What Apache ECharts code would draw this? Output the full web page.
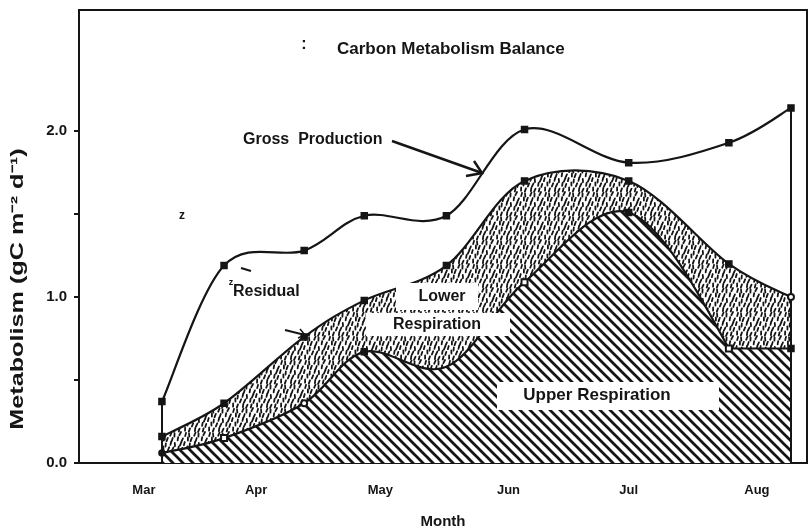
<!DOCTYPE html>
<html>
<head>
<meta charset="utf-8">
<script src="https://cdn.jsdelivr.net/npm/echarts@6/dist/echarts.min.js"></script>
<style>html,body{margin:0;padding:0;background:#fff}#c{width:811px;height:529px}</style>
</head>
<body>
<div id="c"></div>
<script>
// ---- data ----
const monthLabels = ['Mar', 'Apr', 'May', 'Jun', 'Jul', 'Aug'];
const monthTickDays = [0, 28, 59, 91, 121, 153];          // days after 1 Mar where labels sit
const sampleDays = [4.5, 20, 40, 55, 75.5, 95, 121, 146, 161.5];
const grossProduction = [0.37, 1.19, 1.28, 1.49, 1.49, 2.01, 1.81, 1.93, 2.14];
const totalRespiration = [0.16, 0.36, 0.76, 0.98, 1.19, 1.70, 1.70, 1.20, 1.00]; // top of lower respiration
const upperRespiration = [0.06, 0.15, 0.36, 0.67, 0.58, 1.09, 1.51, 0.69, 0.69];
const yTickValues = [0, 0.5, 1, 1.5, 2];
const yLabelValues = [0, 1, 2];

// ---- styles ----
const INK = '#151515';
const FONT = 'Liberation Sans, Arial, sans-serif';
const grossSymbols = ['rect','rect','rect','rect','rect','rect','rect','rect','rect'];
const totalSymbols = ['rect','rect','rect','rect','rect','rect','rect','rect','emptyCircle'];
const upperSymbols = ['circle','emptyRect','emptyCircle','rect','none','emptyRect','rect','emptyRect','rect'];

function hatchPattern() {
  const s = 10, c = document.createElement('canvas');
  c.width = s; c.height = s;
  const g = c.getContext('2d');
  g.fillStyle = '#fff'; g.fillRect(0, 0, s, s);
  g.strokeStyle = INK; g.lineWidth = 2.7; g.lineCap = 'butt';
  for (let k = -1; k <= 1; k++) {
    g.beginPath(); g.moveTo(k * s - 1, -1); g.lineTo(k * s + s + 1, s + 1); g.stroke();
  }
  return c;
}
function stipplePattern() {
  const s = 24, n = 5, step = s / n, c = document.createElement('canvas');
  c.width = s; c.height = s;
  const g = c.getContext('2d');
  g.fillStyle = '#fff'; g.fillRect(0, 0, s, s);
  g.strokeStyle = INK; g.lineWidth = 1.8; g.lineCap = 'round';
  // fixed texture offsets so the stipple is irregular but repeatable
  const jx = [0.5,-0.7,0.2,0.8,-0.4,-0.6,0.3,-0.2,0.7,-0.8,0.4,-0.3,0.6,-0.5,0.1,-0.1,0.8,-0.6,0.2,0.5,0.7,-0.4,-0.8,0.3,-0.2];
  const jy = [-0.3,0.6,-0.8,0.1,0.7,0.4,-0.5,0.8,-0.2,0.3,-0.7,0.5,0.0,-0.4,0.9,0.2,-0.6,0.6,-0.9,0.1,-0.1,0.7,0.3,-0.5,0.4];
  const sl = [1.3,0.2,1.6,0.8,-0.3,1.1,0.5,1.5,0.0,1.2,0.7,-0.2,1.4,0.9,0.3,1.6,0.6,1.0,-0.1,1.3,0.4,1.5,0.8,0.1,1.1];
  let k = 0;
  for (let r = 0; r < n; r++) {
    for (let col = 0; col < n; col++) {
      const cx = (col * step + step / 2 + (r % 2) * step / 2 + jx[k]) % s;
      const cy = r * step + step / 2 + jy[k];
      const dx = sl[k] / 2; k++;
      [[-s, 0], [0, 0], [s, 0], [0, -s], [0, s]].forEach(([ox, oy]) => {
        g.beginPath(); g.moveTo(cx + ox - dx, cy + oy + 1.6); g.lineTo(cx + ox + dx, cy + oy - 1.6); g.stroke();
      });
    }
  }
  return c;
}
const HATCH = { image: hatchPattern(), repeat: 'repeat' };
const STIPPLE = { image: stipplePattern(), repeat: 'repeat' };

// Catmull-Rom spline through pixel points
function splinePath(pts, straightTail) {
  let d = 'M' + pts[0][0] + ' ' + pts[0][1];
  const n = pts.length;
  for (let i = 0; i < n - 1; i++) {
    const p0 = pts[i - 1] || pts[i], p1 = pts[i], p2 = pts[i + 1], p3 = pts[i + 2] || pts[i + 1];
    if (straightTail && i === n - 2) { d += ' L' + p2[0] + ' ' + p2[1]; continue; }
    let c1 = [p1[0] + (p2[0] - p0[0]) / 6, p1[1] + (p2[1] - p0[1]) / 6];
    let c2 = [p2[0] - (p3[0] - p1[0]) / 6, p2[1] - (p3[1] - p1[1]) / 6];
    if (straightTail && i === n - 3) { c2 = [p2[0] - (p2[0] - p1[0]) / 4, p2[1] - (p2[1] - p1[1]) / 3]; }
    d += ' C' + c1[0] + ' ' + c1[1] + ' ' + c2[0] + ' ' + c2[1] + ' ' + p2[0] + ' ' + p2[1];
  }
  return d;
}
function bandSeries(name, values, fill, straightTail, z) {
  return {
    name, type: 'custom', z,
    data: sampleDays.map((d, i) => [d, values[i]]),
    encode: { x: 0, y: 1 },
    renderItem: function (params, api) {
      if (params.dataIndex !== 0) return null;
      const pts = sampleDays.map((d, i) => api.coord([d, values[i]]));
      const base = api.coord([0, 0])[1];
      const curve = splinePath(pts, straightTail);
      const last = pts[pts.length - 1];
      const children = [];
      if (fill) {
        children.push({ type: 'path', shape: { pathData: curve + ' L' + last[0] + ' ' + base + ' L' + pts[0][0] + ' ' + base + ' Z' },
          style: { fill: fill, stroke: null } });
      }
      children.push({ type: 'path', shape: { pathData: curve }, style: { fill: null, stroke: INK, lineWidth: 2.2 } });
      return { type: 'group', children };
    }
  };
}
function markerSeries(name, values, syms, extra) {
  return Object.assign({
    name, type: 'scatter', z: 6,
    data: sampleDays.map((d, i) => ({ value: [d, values[i]], symbol: syms[i] })),
    symbolSize: 6,
    itemStyle: { color: INK, borderColor: INK, borderWidth: 1.5, opacity: 1 }
  }, extra || {});
}

const chart = echarts.init(document.getElementById('c'), null, { renderer: 'canvas' });

const option = {
  backgroundColor: '#fff',
  animation: false,
  title: {
    text: 'Carbon Metabolism Balance',
    left: 332, top: 36,
    textStyle: { fontFamily: FONT, fontSize: 17, fontWeight: 'bold', color: INK }
  },
  grid: { left: 79, right: 4, top: 10, bottom: 66, show: true, borderColor: INK, borderWidth: 2,
          containLabel: false, outerBoundsMode: 'none' },
  xAxis: {
    type: 'value', min: -16.2, max: 165.5,
    axisLine: { show: false }, axisTick: { show: false }, splitLine: { show: false },
    axisLabel: {
      customValues: monthTickDays,
      formatter: v => monthLabels[monthTickDays.indexOf(v)] || '',
      margin: 21, fontFamily: FONT, fontSize: 13, fontWeight: 'bold', color: INK
    },
    name: 'Month', nameLocation: 'middle', nameGap: 51,
    nameTextStyle: { fontFamily: FONT, fontSize: 15, fontWeight: 'bold', color: INK }
  },
  yAxis: {
    type: 'value', min: 0, max: 2.73,
    axisLine: { show: true, onZero: false, lineStyle: { color: INK, width: 2 } },
    axisTick: { show: true, customValues: yTickValues, length: 5, lineStyle: { color: INK, width: 2 } },
    splitLine: { show: false },
    axisLabel: {
      customValues: yLabelValues,
      formatter: v => v.toFixed(1),
      margin: 12, fontFamily: FONT, fontSize: 15, fontWeight: 'bold', color: INK
    }
  },
  series: [
    bandSeries('Lower Respiration', totalRespiration, STIPPLE, false, 2),
    bandSeries('Upper Respiration', upperRespiration, HATCH, true, 3),
    bandSeries('Gross Production', grossProduction, null, false, 4),
    markerSeries('Lower Respiration points', totalRespiration, totalSymbols),
    markerSeries('Upper Respiration points', upperRespiration, upperSymbols),
    markerSeries('Gross Production points', grossProduction, grossSymbols, {
      markLine: {
        silent: true, symbol: 'none', label: { show: false },
        lineStyle: { color: INK, width: 2, type: 'solid' },
        data: [
          [{ coord: [sampleDays[0], 0] }, { coord: [sampleDays[0], grossProduction[0]] }],
          [{ coord: [sampleDays[8], 0] }, { coord: [sampleDays[8], grossProduction[8]] }]
        ]
      }
    })
  ],
  graphic: [
    { type: 'text', x: 304, y: 45, z: 100, style: { text: ':', font: 'bold 16px ' + FONT, fill: INK, textAlign: 'center', textVerticalAlign: 'middle' } },
    { type: 'text', x: 18, y: 289, rotation: Math.PI / 2, scaleX: 1.4, z: 100,
      style: { text: 'Metabolism (gC m⁻² d⁻¹)', font: 'bold 18px ' + FONT, fill: INK, textAlign: 'center', textVerticalAlign: 'middle' } },
    { type: 'text', x: 243, y: 140, z: 100, style: { text: 'Gross  Production', font: 'bold 16px ' + FONT, fill: INK, textAlign: 'left', textVerticalAlign: 'middle' } },
    { type: 'polyline', z: 100, shape: { points: [[392, 141], [482, 173]] }, style: { stroke: INK, lineWidth: 2.5, fill: null } },
    { type: 'polyline', z: 100, shape: { points: [[466, 176], [482, 173], [474, 161]] }, style: { stroke: INK, lineWidth: 2.5, fill: null } },
    { type: 'text', x: 182, y: 216, z: 100, style: { text: 'z', font: 'bold 12px ' + FONT, fill: INK, textAlign: 'center', textVerticalAlign: 'middle' } },
    { type: 'text', x: 231, y: 283, z: 100, style: { text: 'z', font: 'bold 9px ' + FONT, fill: INK, textAlign: 'center', textVerticalAlign: 'middle' } },
    { type: 'polyline', z: 100, shape: { points: [[241, 268], [251, 271]] }, style: { stroke: INK, lineWidth: 2, fill: null } },
    { type: 'text', x: 233, y: 292, z: 100, style: { text: 'Residual', font: 'bold 16px ' + FONT, fill: INK, textAlign: 'left', textVerticalAlign: 'middle' } },
    { type: 'polyline', z: 100, shape: { points: [[285, 330], [305, 335]] }, style: { stroke: INK, lineWidth: 2, fill: null } },
    { type: 'polyline', z: 100, shape: { points: [[298, 338], [305, 335], [300, 329]] }, style: { stroke: INK, lineWidth: 1.5, fill: null } },
    { type: 'rect', z: 90, shape: { x: 396, y: 283, width: 82, height: 27 }, style: { fill: '#fff' } },
    { type: 'rect', z: 90, shape: { x: 366, y: 313, width: 144, height: 23 }, style: { fill: '#fff' } },
    { type: 'text', x: 442, y: 297, z: 100, style: { text: 'Lower', font: 'bold 16px ' + FONT, fill: INK, textAlign: 'center', textVerticalAlign: 'middle' } },
    { type: 'text', x: 437, y: 325, z: 100, style: { text: 'Respiration', font: 'bold 16px ' + FONT, fill: INK, textAlign: 'center', textVerticalAlign: 'middle' } },
    { type: 'rect', z: 90, shape: { x: 497, y: 382, width: 222, height: 28 }, style: { fill: '#fff' } },
    { type: 'text', x: 597, y: 395, z: 100, style: { text: 'Upper Respiration', font: 'bold 17px ' + FONT, fill: INK, textAlign: 'center', textVerticalAlign: 'middle' } }
  ]
};
chart.setOption(option);
</script>
</body>
</html>
